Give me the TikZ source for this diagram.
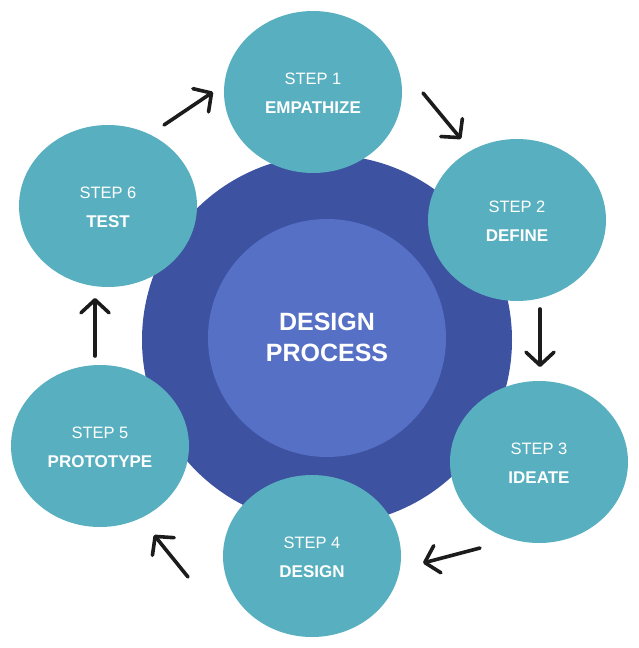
\documentclass[tikz,border=0pt]{standalone}
\usepackage{fontspec}
\setmainfont{Liberation Sans}
\usetikzlibrary{shapes.geometric,arrows.meta}
\definecolor{teal1}{HTML}{57AFBF}
\definecolor{darkblue}{HTML}{3D52A1}
\definecolor{midblue}{HTML}{5670C6}
\definecolor{arrowc}{HTML}{1C1C1C}
\tikzset{
  stepell/.style={ellipse,fill=teal1,minimum width=178pt,minimum height=162pt,inner sep=0pt},
  steptop/.style={anchor=base,text=white,inner sep=0pt,font=\fontsize{16.5}{18}\selectfont},
  stepname/.style={anchor=base,text=white,inner sep=0pt,font=\fontsize{17}{20}\selectfont\bfseries},
  flow/.style={draw=arrowc,line width=3.6pt,line cap=round,-{Straight Barb[length=13pt,width=28pt,round]}},
  centertxt/.style={anchor=base,text=white,inner sep=0pt,font=\fontsize{25}{30}\selectfont\bfseries}
}
\newcommand\mystep[4]{%
  \node[stepell] (#1) at (#2) {};
  \node[steptop,yshift=8pt] (#1top) at (#1.center) {STEP #3};
  \node[stepname,yshift=-21.3pt] (#1name) at (#1.center) {#4};
}
\begin{document}
\begin{tikzpicture}[x=1pt,y=-1pt]
\useasboundingbox (0,0) rectangle (639,648);
\node[circle,fill=darkblue,minimum size=370pt,inner sep=0pt] (outer) at (327,340) {};
\node[circle,fill=midblue,minimum size=238pt,inner sep=0pt] (inner) at (327,338) {};
\node[centertxt,yshift=8pt] (cdesign) at (inner.center) {DESIGN};
\node[centertxt,yshift=-23.6pt] (cprocess) at (inner.center) {PROCESS};
\mystep{s1}{313,92}{1}{EMPATHIZE}
\mystep{s2}{517,220}{2}{DEFINE}
\mystep{s3}{539,462}{3}{IDEATE}
\mystep{s4}{312,556}{4}{DESIGN}
\mystep{s5}{100,446}{5}{PROTOTYPE}
\mystep{s6}{108,206}{6}{TEST}
\coordinate (a1s) at (164,125); \coordinate (a1e) at (213,92);
\coordinate (a2s) at (423,93);  \coordinate (a2e) at (461,139);
\coordinate (a3s) at (540,309); \coordinate (a3e) at (540,367);
\coordinate (a4s) at (480,548); \coordinate (a4e) at (423,563);
\coordinate (a5s) at (188,577); \coordinate (a5e) at (154,535);
\coordinate (a6s) at (95,356);  \coordinate (a6e) at (95,298);
\draw[flow] (a1s) -- (a1e);
\draw[flow] (a2s) -- (a2e);
\draw[flow] (a3s) -- (a3e);
\draw[flow] (a4s) -- (a4e);
\draw[flow] (a5s) -- (a5e);
\draw[flow] (a6s) -- (a6e);
\end{tikzpicture}
\end{document}
